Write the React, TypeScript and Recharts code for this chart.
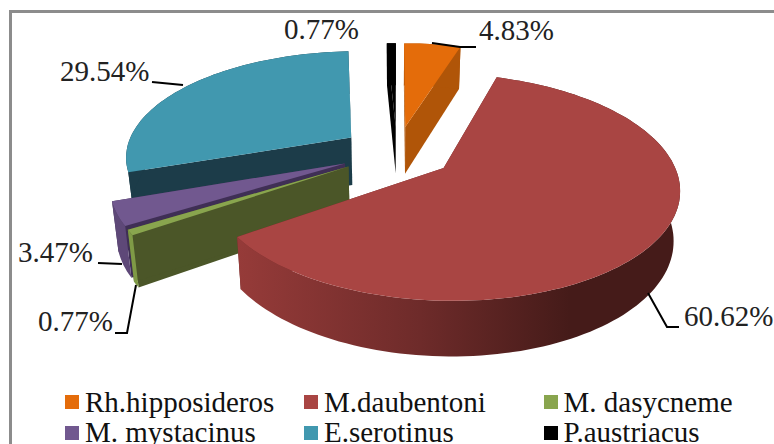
import { PieChart, Pie, Legend } from 'recharts'

const speciesNames = ['Rh.hipposideros', 'M.daubentoni', 'M. dasycneme', 'M. mystacinus', 'E.serotinus', 'P.austriacus']
const sharePercent = [4.83, 60.62, 0.77, 3.47, 29.54, 0.77]

const slices = speciesNames.map((name, i) => ({ name, value: sharePercent[i] }))

// top, outer wall, cut face
const sliceColors: Record<string, { top: string; wall: string; cut: string }> = {
  'Rh.hipposideros': { top: '#E46C0A', wall: '#B05508', cut: '#B05508' },
  'M.daubentoni': { top: '#A94543', wall: 'url(#redWall)', cut: '#6b2a28' },
  'M. dasycneme': { top: '#89A54E', wall: '#7f9a46', cut: '#4B5628' },
  'M. mystacinus': { top: '#71588F', wall: '#5E4878', cut: '#3F2F55' },
  'E.serotinus': { top: '#4198AF', wall: '#1C3C49', cut: '#1C3C49' },
  'P.austriacus': { top: '#000000', wall: '#000000', cut: '#000000' },
}

// back slices first so the front ones paint over them
const paintOrder = ['Rh.hipposideros', 'P.austriacus', 'E.serotinus', 'M. mystacinus', 'M. dasycneme', 'M.daubentoni']

const TILT = 0.4646
const PERSPECTIVE = 0.165
const EXPLODE = 0.25
const DEPTH = 48
const BASE_SHRINK = 0.977

const labelLayout = [
  { x: 479, y: 40, line: '432,43 460,47 476,47' },
  { x: 684, y: 326, line: '648,293 667,327 679,327' },
  { x: 38, y: 331, line: '136,285 127,333 115,333' },
  { x: 18, y: 262, line: '98,263 122,264' },
  { x: 60, y: 81, line: '152,82 183,85' },
  { x: 284, y: 39, line: '' },
]

function SliceShape(props: any) {
  const { cx, cy, outerRadius: r, startAngle, endAngle, midAngle, name, payload } = props
  const c = sliceColors[name ?? payload?.name]
  const toRad = (deg: number) => ((90 - deg) * Math.PI) / 180 // back to clockwise-from-top
  const mid = toRad(midAngle)
  const ox = EXPLODE * Math.sin(mid)
  const oy = EXPLODE * Math.cos(mid)

  const project = (dx: number, dy: number, bottom: boolean) => {
    const p = 1 / (1 + PERSPECTIVE * (dy + oy))
    const x = (dx + ox) * r * p
    const y = -(dy + oy) * r * TILT * p
    if (!bottom) return [cx + x, cy + y]
    return [cx + x * BASE_SHRINK, cy + y + DEPTH * Math.pow(p, 0.7)]
  }

  const a0 = toRad(startAngle)
  const a1 = toRad(endAngle)
  const steps = Math.max(4, Math.ceil(Math.abs(a1 - a0) / 0.03))
  const arc: number[] = []
  for (let i = 0; i <= steps; i++) arc.push(a0 + ((a1 - a0) * i) / steps)

  const rim = (bottom: boolean) => arc.map((t) => project(Math.sin(t), Math.cos(t), bottom))
  const toPath = (pts: number[][]) => 'M' + pts.map((q) => q[0].toFixed(1) + ',' + q[1].toFixed(1)).join('L') + 'Z'

  const apexTop = project(0, 0, false)
  const apexBottom = project(0, 0, true)
  const topRim = rim(false)
  const bottomRim = rim(true)

  return (
    <g>
      <path d={toPath([apexTop, topRim[0], bottomRim[0], apexBottom])} fill={c.cut} />
      <path d={toPath([apexTop, topRim[steps], bottomRim[steps], apexBottom])} fill={c.cut} />
      <path d={toPath([...topRim, ...[...bottomRim].reverse()])} fill={c.wall} />
      <path d={toPath([apexTop, ...topRim])} fill={c.top} />
    </g>
  )
}

function renderLabel(props: any) {
  const spot = labelLayout[props.index]
  return (
    <g key={props.index}>
      {spot.line && <polyline points={spot.line} fill="none" stroke="#000" strokeWidth={2} />}
      <text x={spot.x} y={spot.y} fontSize={29} fontFamily="Liberation Serif" fill="#222">
        {props.value.toFixed(2)}%
      </text>
    </g>
  )
}

function SpeciesLegend() {
  return (
    <div style={{ display: 'grid', gridTemplateColumns: '239px 239.5px 230px', marginLeft: 65 }}>
      {speciesNames.map((name) => (
        <div key={name} style={{ display: 'flex', alignItems: 'center', height: 30.5, fontFamily: 'Liberation Serif', fontSize: 29, color: '#111', whiteSpace: 'nowrap' }}>
          <span style={{ width: 14, height: 14, marginRight: 6, flexShrink: 0, background: sliceColors[name].top, display: 'inline-block' }} />
          {name}
        </div>
      ))}
    </div>
  )
}

export default function App() {
  return (
    <div style={{ position: 'absolute', left: 0, top: 0, width: 774, height: 444, overflow: 'hidden', background: '#fff' }}>
      <div style={{ position: 'absolute', left: 9, top: 10, width: 780, height: 460, border: '3px solid #8c8c8c', boxSizing: 'border-box' }} />
      <PieChart width={774} height={444} margin={{ top: 0, right: 0, bottom: 0, left: 0 }} style={{ position: 'absolute', left: 0, top: 0 }}>
        <defs>
          <linearGradient id="redWall" gradientUnits="userSpaceOnUse" x1={237} y1={0} x2={570} y2={0}>
            <stop offset="0%" stopColor="#963B39" />
            <stop offset="55%" stopColor="#6E2B2A" />
            <stop offset="100%" stopColor="#451B19" />
          </linearGradient>
        </defs>
        {paintOrder.map((name) => (
          <Pie
            key={name}
            data={slices}
            dataKey="value"
            nameKey="name"
            cx={397}
            cy={152}
            outerRadius={226}
            startAngle={90}
            endAngle={-270}
            stroke="none"
            isAnimationActive={false}
            legendType="none"
            shape={(p: any) => (p.name === name || p.payload?.name === name ? <SliceShape {...p} /> : <g />)}
          />
        ))}
        <Pie
          data={slices}
          dataKey="value"
          cx={397}
          cy={152}
          outerRadius={226}
          startAngle={90}
          endAngle={-270}
          isAnimationActive={false}
          legendType="none"
          shape={() => <g />}
          label={renderLabel}
          labelLine={false}
        />
        <Legend content={<SpeciesLegend />} wrapperStyle={{ left: 0, top: 387, width: 774 }} />
      </PieChart>
    </div>
  )
}
